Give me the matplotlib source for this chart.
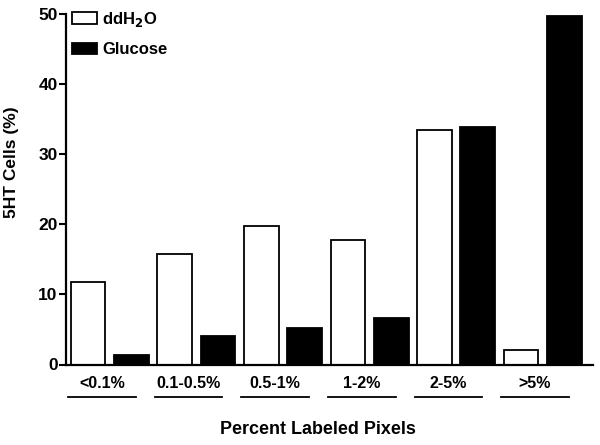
import matplotlib
matplotlib.use("Agg")
import matplotlib.pyplot as plt
import numpy as np
from matplotlib.patches import Patch

plt.rcParams['font.family'] = ['Liberation Sans', 'DejaVu Sans']
plt.rcParams['font.weight'] = 'bold'

categories = ['<0.1%', '0.1-0.5%', '0.5-1%', '1-2%', '2-5%', '>5%']
ddh2o = [11.8, 15.7, 19.7, 17.7, 33.4, 2.1]
glucose = [1.4, 4.0, 5.2, 6.6, 33.9, 49.7]
series_names = ['ddH$_2$O', 'Glucose']
yticks = [0, 10, 20, 30, 40, 50]

fig = plt.figure(figsize=(6, 4.45), dpi=100)
ax = fig.add_axes([66/600, 1-364.5/445, 527/600, (364.5-14)/445])

n = len(categories)
x_w = np.arange(n) * 2
x_g = x_w + 1
ax.bar(x_w, ddh2o, width=0.8, color='white', edgecolor='black', linewidth=1.3)
ax.bar(x_g, glucose, width=0.8, color='black', edgecolor='black', linewidth=1.3)

ax.set_xlim(-0.51, 11.66)
ax.set_ylim(0, 50)
ax.set_yticks(yticks)
ax.set_yticklabels([str(t) for t in yticks], fontsize=12.5, fontweight='bold')
ax.set_xticks([])
for s in ['top', 'right']:
    ax.spines[s].set_visible(False)
for s in ['left', 'bottom']:
    ax.spines[s].set_linewidth(1.6)
ax.tick_params(axis='y', direction='out', length=5, width=1.5, pad=1)

fig.text(12/600, 1-162/445, '5HT Cells (%)', rotation=90, ha='center', va='center',
         fontsize=12.5, fontweight='bold')

centers = (x_w + x_g) / 2 - 0.18
for c, lab in zip(centers, categories):
    ax.text(c, -2.7, lab, ha='center', va='center', fontsize=11.5, fontweight='bold',
            transform=ax.transData, clip_on=False)
    ax.plot([c - 0.78, c + 0.78], [-4.6, -4.6], color='black', lw=1.3,
            clip_on=False, transform=ax.transData)

fig.text(317.5/600, 1-429/445, 'Percent Labeled Pixels', ha='center', va='center',
         fontsize=12.9, fontweight='bold')

handles = [Patch(facecolor='white', edgecolor='black', linewidth=1.3),
           Patch(facecolor='black', edgecolor='black', linewidth=1.3)]
ax.legend(handles, series_names, loc='upper left', bbox_to_anchor=(72/600, 1-10/445),
          bbox_transform=fig.transFigure,
          frameon=False, handlelength=1.5, handleheight=0.7, handletextpad=0.3,
          labelspacing=0.8, borderaxespad=0.0, borderpad=0.0,
          prop={'size': 12, 'weight': 'bold'})

fig.savefig('out.png', dpi=100, facecolor='white')
